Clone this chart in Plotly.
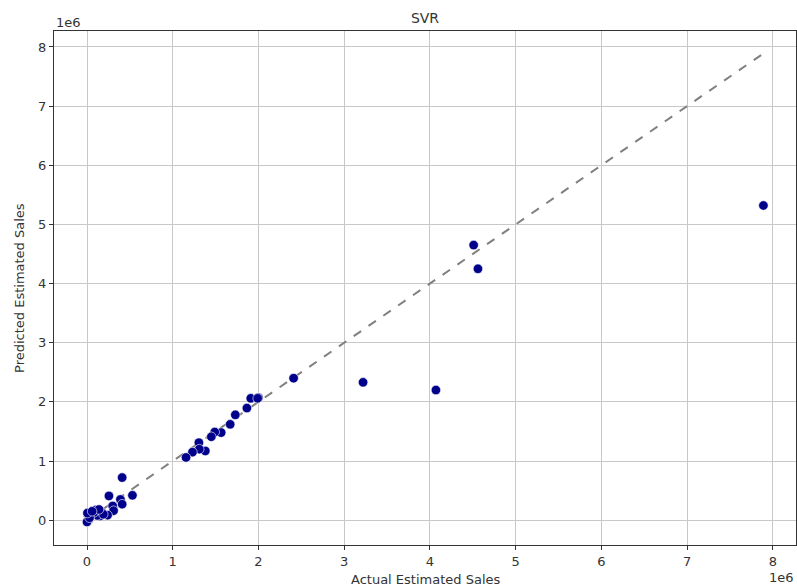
import plotly.graph_objects as go

actual = [7.89, 4.51, 4.56, 4.07, 3.22, 2.41, 2.00, 1.91, 1.99, 1.865, 1.73, 1.67, 1.565, 1.49, 1.45,
          1.38, 1.305, 1.31, 1.23, 1.155,
          0.41, 0.256, 0.53, 0.39, 0.41, 0.30, 0.31, 0.24, 0.17, 0.15, 0.10, 0.055, 0.01, 0.02, 0.0,
          0.04, 0.12, 0.19, 0.08, 0.03, 0.005, 0.14, 0.06]
predicted = [5.32, 4.65, 4.25, 2.20, 2.33, 2.40, 2.07, 2.06, 2.06, 1.895, 1.78, 1.62, 1.48, 1.49, 1.41,
             1.17, 1.31, 1.20, 1.15, 1.06,
             0.72, 0.41, 0.42, 0.35, 0.27, 0.24, 0.16, 0.085, 0.14, 0.07, 0.17, 0.11, 0.09, 0.01, -0.03,
             0.07, 0.08, 0.10, 0.13, 0.04, 0.12, 0.18, 0.15]
scale = 1e6
actual = [a * scale for a in actual]
predicted = [p * scale for p in predicted]

tick_vals = [0, 1, 2, 3, 4, 5, 6, 7, 8]
tick_text = [str(t) for t in tick_vals]

line_min = min(actual)
line_max = max(actual)

font = "DejaVu Sans"
txt = "#333333"
fig = go.Figure()
fig.add_trace(go.Scatter(
    x=[line_min, line_max], y=[line_min, line_max], mode="lines",
    line=dict(color="gray", width=2, dash="dash"), hoverinfo="skip", showlegend=False))
fig.add_trace(go.Scatter(
    x=actual, y=predicted, mode="markers",
    marker=dict(color="#00008B", size=9.5, line=dict(color="white", width=0.6)),
    showlegend=False))

axis_common = dict(
    showline=True, linecolor="#333333", linewidth=1.2, mirror=True,
    showgrid=True, gridcolor="#c8c8c8", gridwidth=1, zeroline=False,
    ticks="outside", ticklen=4, tickcolor="#333333", automargin=False,
    tickfont=dict(family=font, size=13, color=txt),
)
fig.update_xaxes(range=[-0.385e6, 8.27e6], tickvals=[t * scale for t in tick_vals], ticktext=tick_text,
                 **axis_common)
fig.update_yaxes(range=[-0.42e6, 8.27e6], tickvals=[t * scale for t in tick_vals], ticktext=tick_text,
                 **axis_common)

fig.update_layout(
    width=797, height=588,
    margin=dict(l=54, r=1, t=31, b=43, autoexpand=False),
    plot_bgcolor="white", paper_bgcolor="white",
    title=dict(text="SVR", x=0.5, xref="paper", xanchor="center", y=0.9694, yanchor="middle",
               font=dict(family=font, size=14, color=txt)),
    font=dict(family=font, color=txt),
    annotations=[
        dict(text="1e6", xref="paper", yref="paper", x=0, y=1.0156, xanchor="left", yanchor="middle",
             showarrow=False, font=dict(family=font, size=13, color=txt)),
        dict(text="1e6", xref="paper", yref="paper", x=1, y=-0.064, xanchor="right", yanchor="middle",
             showarrow=False, font=dict(family=font, size=13, color=txt)),
        dict(text="Actual Estimated Sales", xref="paper", yref="paper", x=0.5, y=-0.068,
             xanchor="center", yanchor="middle", showarrow=False, font=dict(family=font, size=13, color=txt)),
        dict(text="Predicted Estimated Sales", xref="paper", yref="paper", x=-0.0472, y=0.5,
             xanchor="center", yanchor="middle", textangle=-90, showarrow=False,
             font=dict(family=font, size=13, color=txt)),
    ],
)
fig.write_html("out.html", config={"displayModeBar": False},
               post_script="document.body.style.margin='0';")
